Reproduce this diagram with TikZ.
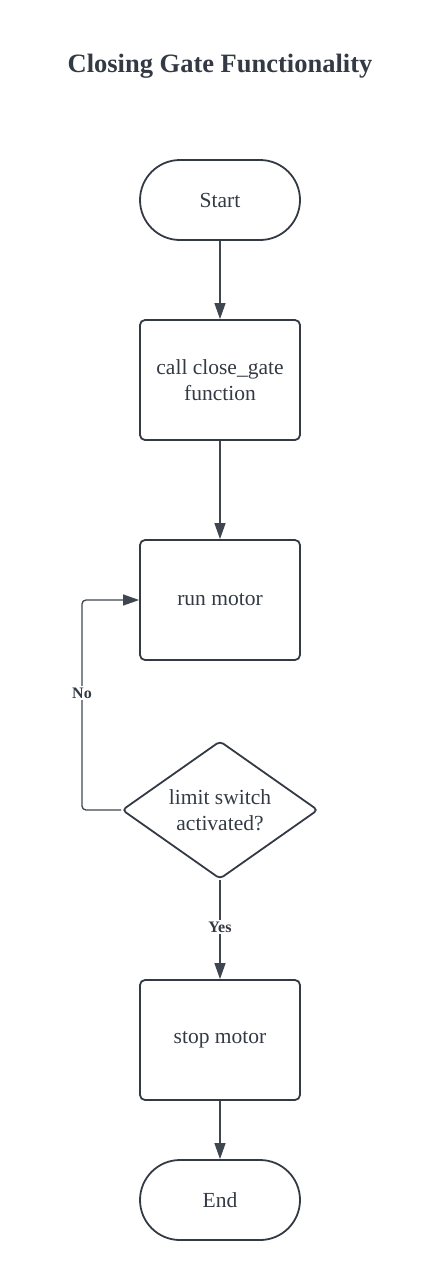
\documentclass[tikz,border=0pt]{standalone}
\usepackage{fontspec}
\setmainfont{Liberation Serif}
\usepackage{tikz}
\usetikzlibrary{shapes.geometric,arrows.meta}
\definecolor{inkc}{HTML}{333A44}
\definecolor{linec}{HTML}{3F4650}

\begin{document}
\begin{tikzpicture}[x=1pt,y=-1pt,shorten >=0pt,-]
            \tikzstyle{term}=[rectangle,rounded corners=40pt,draw=inkc,line width=1.8pt,minimum width=160pt,minimum height=80pt,inner sep=0pt,text=inkc,font=\fontsize{21.5}{26.5}\selectfont]
            \tikzstyle{proc}=[rectangle,rounded corners=5pt,draw=inkc,line width=1.8pt,minimum width=160pt,minimum height=120pt,inner sep=0pt,align=center,text=inkc,font=\fontsize{21.5}{26.5}\selectfont]
            \tikzstyle{dec}=[diamond,aspect=1.42,rounded corners=4pt,draw=inkc,line width=1.8pt,minimum width=196pt,minimum height=138pt,inner sep=0pt,align=center,text=inkc,font=\fontsize{21.5}{26.5}\selectfont]
            \tikzstyle{lbl}=[fill=white,inner sep=2pt,text=inkc,font=\bfseries\fontsize{16}{18}\selectfont]
            \tikzstyle{conn}=[draw=linec,line width=1.3pt,-{Triangle[length=16pt,width=11pt]}]

            \useasboundingbox (0,0) rectangle (440,1280);
            \node[text=inkc,font=\bfseries\fontsize{26.5}{30}\selectfont] (title) at (220,66) {Closing Gate Functionality};

            \node[term] (start) at (220,200) {Start};
            \node[proc] (call) at (220,380) {call close\_gate\\function};
            \node[proc] (run) at (220,600) {run motor};
            \node[dec] (limit) at (220,810) {limit switch\\activated?};
            \node[proc] (stop) at (220,1040) {stop motor};
            \node[term] (end) at (220,1200) {End};

                \foreach \from/\to in {start/call, call/run, limit/stop, stop/end}
                    \draw[conn] (\from) -- (\to);

                \coordinate (back) at (82,810);
                \draw[conn,rounded corners=4pt] (limit.west) -- (back) |- (run.west);

                \node[lbl] (no) at (82,693) {No};
                \node[lbl] (yes) at (220,927) {Yes};
        \end{tikzpicture}
\end{document}
